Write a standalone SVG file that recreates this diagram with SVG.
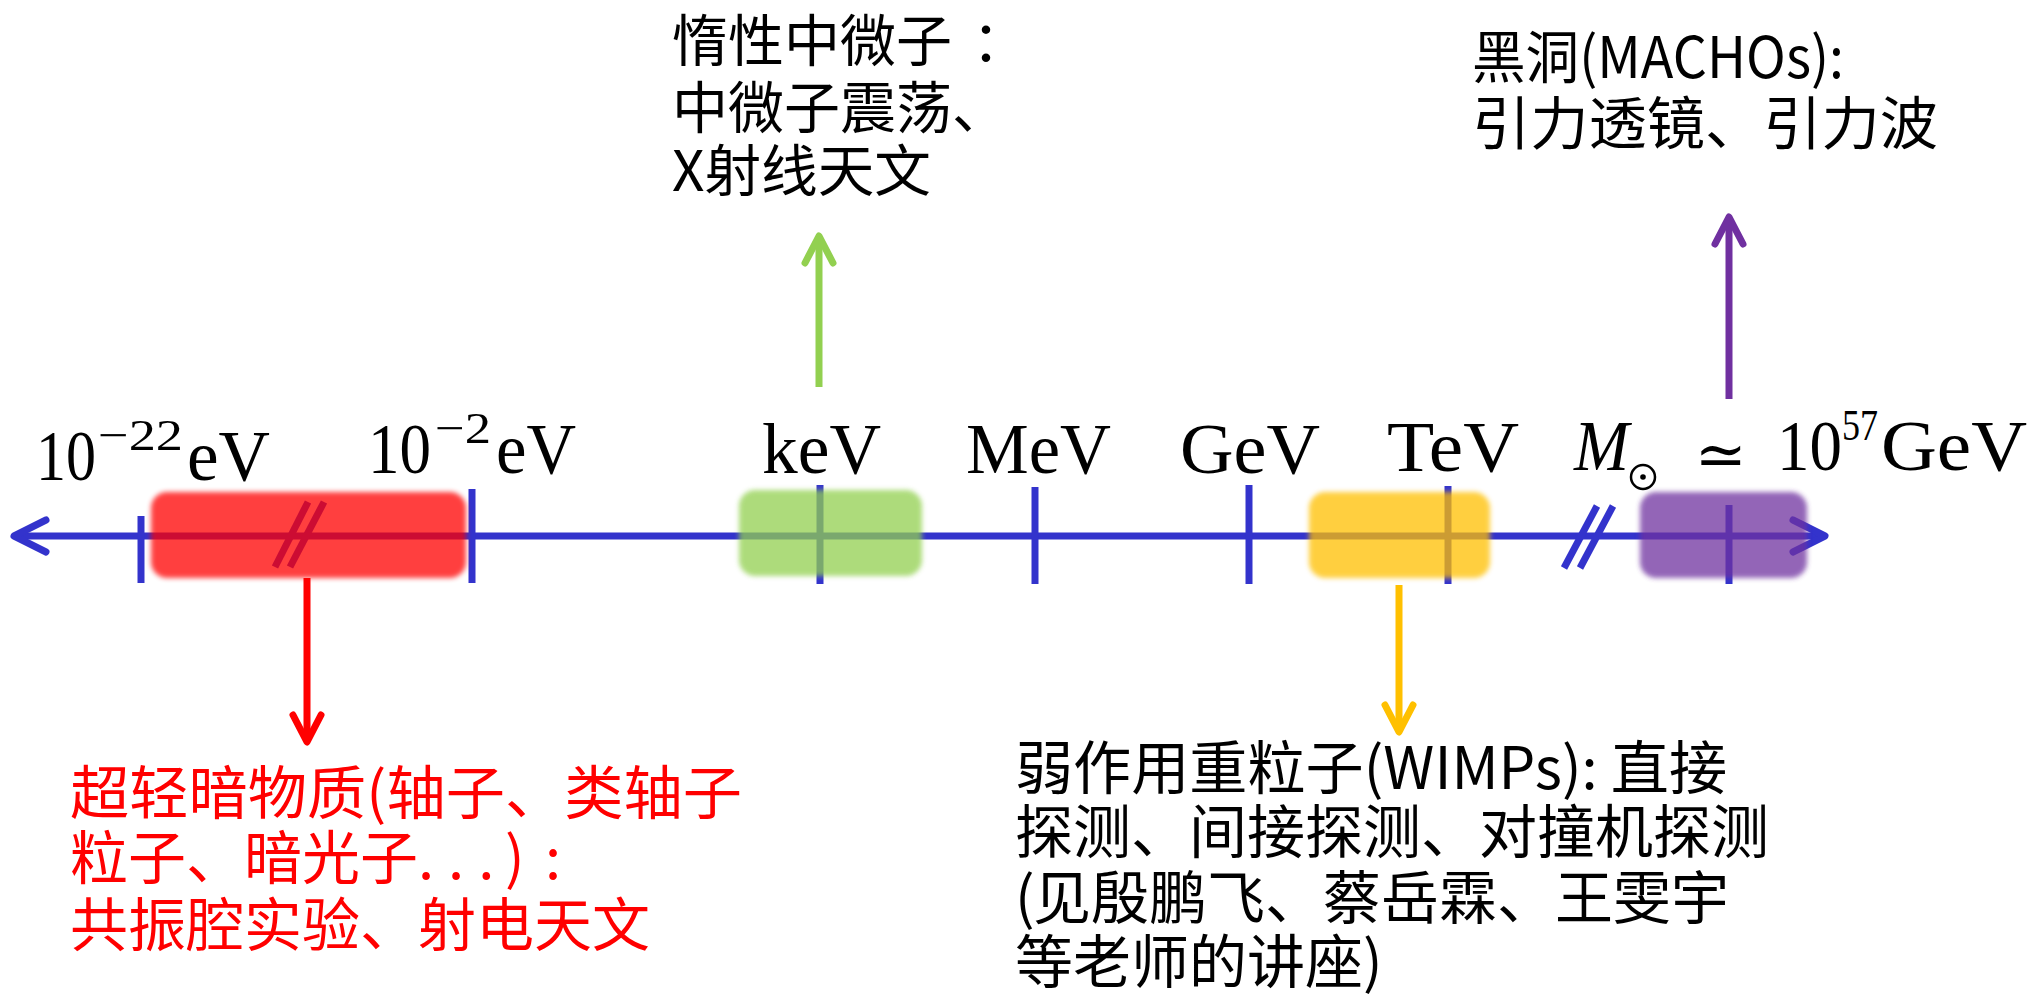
<svg xmlns="http://www.w3.org/2000/svg" width="2042" height="994" viewBox="0 0 2042 994">
<style>
.axis{stroke:#3333CC;stroke-width:7;fill:none}
.brk{stroke:#3333CC;stroke-width:7;fill:none}
.m{font-family:"Liberation Serif",serif;font-size:72px;fill:#000}
.sup{font-family:"Liberation Serif",serif;font-size:44px;fill:#000}
.cjk{font-family:"Noto Sans CJK SC",sans-serif;fill:#000}
.red{fill:#FF0000}
.box{opacity:0.75}
</style>
<defs>
<filter id="soft" x="-10%" y="-20%" width="120%" height="140%">
<feGaussianBlur stdDeviation="2.5"/>
</filter>
<marker id="hBlue" markerUnits="userSpaceOnUse" orient="auto-start-reverse" refX="0" refY="0" markerWidth="80" markerHeight="80" viewBox="-40 -40 80 80" overflow="visible">
<path d="M-32,-16 L0,0 L-32,16" fill="none" stroke="#3333CC" stroke-width="7" stroke-linecap="round" stroke-linejoin="round"/>
</marker>
<marker id="hGreen" markerUnits="userSpaceOnUse" orient="auto" refX="0" refY="0" markerWidth="80" markerHeight="80" viewBox="-40 -40 80 80" overflow="visible">
<path d="M-27,-14 L0,0 L-27,14" fill="none" stroke="#92D050" stroke-width="7" stroke-linecap="round" stroke-linejoin="round"/>
</marker>
<marker id="hPurple" markerUnits="userSpaceOnUse" orient="auto" refX="0" refY="0" markerWidth="80" markerHeight="80" viewBox="-40 -40 80 80" overflow="visible">
<path d="M-27,-14 L0,0 L-27,14" fill="none" stroke="#7030A0" stroke-width="7" stroke-linecap="round" stroke-linejoin="round"/>
</marker>
<marker id="hRed" markerUnits="userSpaceOnUse" orient="auto" refX="0" refY="0" markerWidth="80" markerHeight="80" viewBox="-40 -40 80 80" overflow="visible">
<path d="M-27,-14 L0,0 L-27,14" fill="none" stroke="#FF0000" stroke-width="7" stroke-linecap="round" stroke-linejoin="round"/>
</marker>
<marker id="hYellow" markerUnits="userSpaceOnUse" orient="auto" refX="0" refY="0" markerWidth="80" markerHeight="80" viewBox="-40 -40 80 80" overflow="visible">
<path d="M-27,-14 L0,0 L-27,14" fill="none" stroke="#FFC000" stroke-width="7" stroke-linecap="round" stroke-linejoin="round"/>
</marker>
</defs>
<rect width="2042" height="994" fill="#FFFFFF"/>

<g id="axis">
<line class="axis" x1="14" y1="536" x2="1825" y2="536" marker-start="url(#hBlue)" marker-end="url(#hBlue)"/>
<line class="axis" x1="141" y1="516" x2="141" y2="583"/>
<line class="axis" x1="472" y1="489" x2="472" y2="583"/>
<line class="axis" x1="820" y1="485" x2="820" y2="584"/>
<line class="axis" x1="1035" y1="487" x2="1035" y2="584"/>
<line class="axis" x1="1249" y1="485" x2="1249" y2="584"/>
<line class="axis" x1="1448" y1="486" x2="1448" y2="584"/>
<line class="axis" x1="1729" y1="505" x2="1729" y2="584"/>
<line class="brk" x1="275" y1="567" x2="308" y2="502"/>
<line class="brk" x1="290" y1="567" x2="324" y2="502"/>
<line class="brk" x1="1564" y1="568" x2="1597" y2="506"/>
<line class="brk" x1="1580" y1="568" x2="1613" y2="506"/>
</g>

<g id="node-ultralight">
<rect class="box" x="151" y="492" width="315" height="86" rx="16" fill="#FF0000" filter="url(#soft)"/>
</g>
<g id="node-sterile">
<rect class="box" x="739" y="490" width="183" height="86" rx="16" fill="#92D050" filter="url(#soft)"/>
</g>
<g id="node-wimp">
<rect class="box" x="1309" y="492" width="181" height="86" rx="16" fill="#FFC000" filter="url(#soft)"/>
</g>
<g id="node-macho">
<rect class="box" x="1640" y="492" width="167" height="86" rx="16" fill="#7030A0" filter="url(#soft)"/>
</g>

<g id="tick-labels">
<text class="m" x="36" y="480" textLength="60" lengthAdjust="spacingAndGlyphs">10</text>
<text class="sup" x="98" y="450" textLength="85" lengthAdjust="spacingAndGlyphs">−22</text>
<text class="m" x="187" y="480" textLength="83" lengthAdjust="spacingAndGlyphs">eV</text>
<text class="m" x="368" y="473" textLength="63" lengthAdjust="spacingAndGlyphs">10</text>
<text class="sup" x="435" y="443" textLength="56" lengthAdjust="spacingAndGlyphs">−2</text>
<text class="m" x="496" y="473" textLength="80" lengthAdjust="spacingAndGlyphs">eV</text>
<text class="m" x="762" y="473" textLength="119" lengthAdjust="spacingAndGlyphs">keV</text>
<text class="m" x="966" y="473" textLength="145" lengthAdjust="spacingAndGlyphs">MeV</text>
<text class="m" x="1180" y="473" textLength="140" lengthAdjust="spacingAndGlyphs">GeV</text>
<text class="m" x="1387" y="471" textLength="132" lengthAdjust="spacingAndGlyphs">TeV</text>
<text class="m" x="1574" y="470" font-style="italic" textLength="55" lengthAdjust="spacingAndGlyphs">M</text>
<circle cx="1643" cy="477" r="12" fill="none" stroke="#000" stroke-width="2.5"/>
<circle cx="1643" cy="477" r="2.8" fill="#000"/>
<text x="1695" y="476" font-family="DejaVu Serif, serif" font-size="62" fill="#000">≃</text>
<text class="m" x="1777" y="470" textLength="65" lengthAdjust="spacingAndGlyphs">10</text>
<text class="sup" x="1842" y="440" font-size="46" textLength="36" lengthAdjust="spacingAndGlyphs">57</text>
<text class="m" x="1881" y="470" textLength="146" lengthAdjust="spacingAndGlyphs">GeV</text>
</g>

<g id="label-sterile" class="cjk" font-size="56">
<text x="672" y="61">惰性中微子<tspan x="972">：</tspan></text>
<text x="672" y="128">中微子震荡、</text>
<text x="672" y="191" textLength="259" lengthAdjust="spacingAndGlyphs">X射线天文</text>
</g>

<g id="label-macho" class="cjk" font-size="57">
<text x="1472" y="78" textLength="372" lengthAdjust="spacingAndGlyphs">黑洞(MACHOs):</text>
<text x="1472" y="144" textLength="466" lengthAdjust="spacingAndGlyphs">引力透镜、引力波</text>
</g>

<g id="label-ultralight" class="cjk red" font-size="58">
<text x="70" y="814" textLength="672" lengthAdjust="spacingAndGlyphs">超轻暗物质(轴子、类轴子</text>
<text x="70" y="879">粒子、暗光子<tspan x="418" letter-spacing="14">...</tspan><tspan x="505">)</tspan><tspan x="545">:</tspan></text>
<text x="70" y="946">共振腔实验、射电天文</text>
</g>

<g id="label-wimp" class="cjk" font-size="58">
<text x="1015" y="789" textLength="712" lengthAdjust="spacingAndGlyphs">弱作用重粒子(WIMPs): 直接</text>
<text x="1015" y="853">探测、间接探测、对撞机探测</text>
<text x="1015" y="919">(<tspan x="1033">见殷鹏飞、蔡岳霖、王雯宇</tspan></text>
<text x="1015" y="983">等老师的讲座)</text>
</g>

<g id="connectors">
<line x1="819" y1="387" x2="819" y2="236" stroke="#92D050" stroke-width="7" marker-end="url(#hGreen)"/>
<line x1="1729" y1="399" x2="1729" y2="217" stroke="#7030A0" stroke-width="7" marker-end="url(#hPurple)"/>
<line x1="307" y1="578" x2="307" y2="742" stroke="#FF0000" stroke-width="7" marker-end="url(#hRed)"/>
<line x1="1399" y1="585" x2="1399" y2="732" stroke="#FFC000" stroke-width="7" marker-end="url(#hYellow)"/>
</g>
</svg>
